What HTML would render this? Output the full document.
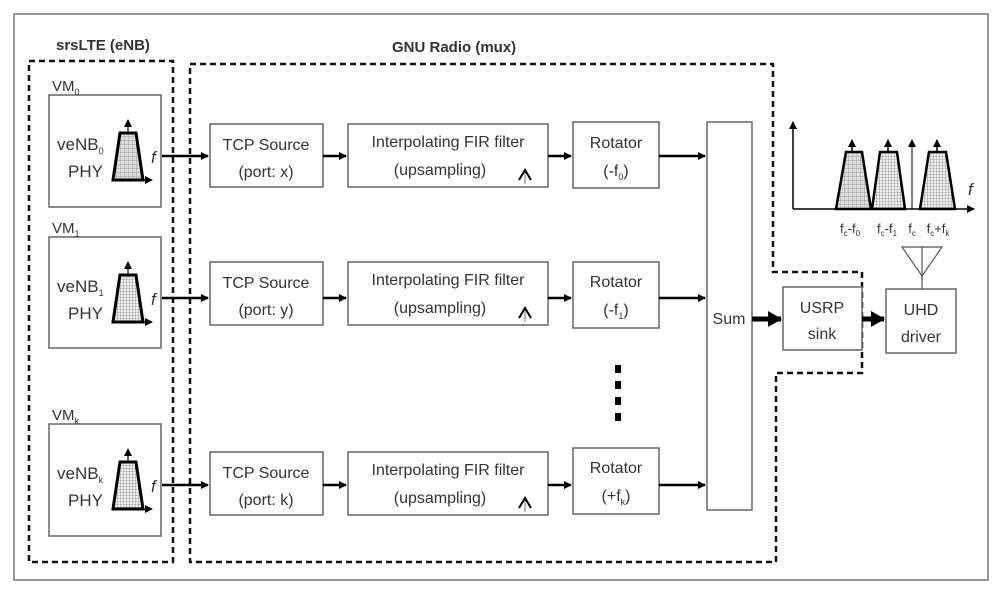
<!DOCTYPE html>
<html><head><meta charset="utf-8"><style>
html,body{margin:0;padding:0;background:#fff}
svg{display:block}
text{font-family:"Liberation Sans",sans-serif;fill:#333}
</style></head><body>
<svg width="1000" height="594" viewBox="0 0 1000 594" xmlns="http://www.w3.org/2000/svg">
<defs>
<marker id="ah" markerWidth="8" markerHeight="8" refX="7" refY="4" orient="auto" markerUnits="userSpaceOnUse"><path d="M0,0 L8,4 L0,8 z" fill="#000"/></marker>
<marker id="ahb" markerWidth="14" markerHeight="16" refX="13" refY="8" orient="auto" markerUnits="userSpaceOnUse"><path d="M0,0 L14,8 L0,16 z" fill="#000"/></marker>
<pattern id="grid" width="4" height="4" patternUnits="userSpaceOnUse"><rect width="4" height="4" fill="#ddd"/><path d="M0,0H4M0,0V4" stroke="#888" stroke-width="0.7"/></pattern>
<pattern id="grid2" width="3" height="3" patternUnits="userSpaceOnUse"><rect width="3" height="3" fill="#eee"/><path d="M0,0H3M0,0V3" stroke="#666" stroke-width="0.6"/></pattern>
</defs>
<rect x="14" y="14" width="974" height="566" fill="none" stroke="#777" stroke-width="1.5"/>
<text x="56" y="50" font-size="15" font-weight="bold" fill="#222">srsLTE (eNB)</text>
<text x="392" y="52" font-size="15" font-weight="bold" fill="#222">GNU Radio (mux)</text>
<g fill="none" stroke="#111" stroke-width="2.5" stroke-dasharray="6,4">
<rect x="29" y="61" width="144" height="501"/>
<path d="M190,64 H773 V272 H862 V373 H776 V562 H190 Z"/>
</g>
<g stroke="#666" stroke-width="1.5" fill="#fff">
<rect x="49" y="95" width="112" height="112"/>
<rect x="49" y="237" width="112" height="111"/>
<rect x="49" y="424" width="112" height="112"/>
<rect x="210" y="124" width="113" height="63"/>
<rect x="210" y="262" width="113" height="63"/>
<rect x="210" y="452" width="113" height="63"/>
<rect x="348" y="124" width="200" height="63"/>
<rect x="348" y="262" width="200" height="63"/>
<rect x="348" y="452" width="200" height="63"/>
<rect x="573" y="122" width="86" height="66"/>
<rect x="573" y="262" width="86" height="66"/>
<rect x="573" y="448" width="86" height="66"/>
<rect x="707" y="122" width="45" height="388"/>
<rect x="783" y="287" width="79" height="63"/>
<rect x="886" y="289" width="70" height="64"/>
</g>
<g font-size="15">
<text x="52" y="91">VM<tspan font-size="9" dy="4">0</tspan></text>
<text x="52" y="233">VM<tspan font-size="9" dy="4">1</tspan></text>
<text x="52" y="420">VM<tspan font-size="9" dy="4">k</tspan></text>
<text x="57" y="150" font-size="17">veNB<tspan font-size="9" dy="4">0</tspan></text>
<text x="68" y="177" font-size="17">PHY</text>
<text x="57" y="292" font-size="17">veNB<tspan font-size="9" dy="4">1</tspan></text>
<text x="68" y="319" font-size="17">PHY</text>
<text x="57" y="479" font-size="17">veNB<tspan font-size="9" dy="4">k</tspan></text>
<text x="68" y="506" font-size="17">PHY</text>
</g>
<g>
<path d="M128,158 V120" stroke="#000" stroke-width="1.2" marker-end="url(#ah)"/>
<path d="M113,180 L120,133 H136 L143,180 Z" fill="url(#grid)" stroke="#000" stroke-width="3"/>
<path d="M113,180 H152" stroke="#000" stroke-width="1.2" marker-end="url(#ah)"/>
<path d="M128,300 V262" stroke="#000" stroke-width="1.2" marker-end="url(#ah)"/>
<path d="M113,322 L120,275 H136 L143,322 Z" fill="url(#grid2)" stroke="#000" stroke-width="3"/>
<path d="M113,322 H152" stroke="#000" stroke-width="1.2" marker-end="url(#ah)"/>
<path d="M128,487 V449" stroke="#000" stroke-width="1.2" marker-end="url(#ah)"/>
<path d="M113,509 L120,462 H136 L143,509 Z" fill="url(#grid2)" stroke="#000" stroke-width="3"/>
<path d="M113,509 H152" stroke="#000" stroke-width="1.2" marker-end="url(#ah)"/>
<text x="151" y="163" font-size="17" font-style="italic">f</text>
<text x="151" y="305" font-size="17" font-style="italic">f</text>
<text x="151" y="492" font-size="17" font-style="italic">f</text>
</g>
<g stroke="#000" stroke-width="2.5" marker-end="url(#ah)">
<path d="M162,156 H208"/><path d="M162,298 H208"/><path d="M162,485 H208"/>
<path d="M323,156 H346"/><path d="M323,298 H346"/><path d="M323,485 H346"/>
<path d="M548,156 H571"/><path d="M548,298 H571"/><path d="M548,485 H571"/>
<path d="M659,156 H705"/><path d="M659,298 H705"/><path d="M659,485 H705"/>
</g>
<g stroke="#000" stroke-width="5" marker-end="url(#ahb)">
<path d="M752,319 H781"/><path d="M862,319 H884"/>
</g>
<g font-size="16" text-anchor="middle">
<text x="266" y="150">TCP Source</text><text x="266" y="177">(port: x)</text>
<text x="266" y="288">TCP Source</text><text x="266" y="315">(port: y)</text>
<text x="266" y="478">TCP Source</text><text x="266" y="505">(port: k)</text>
<text x="448" y="147">Interpolating FIR filter</text><text x="440" y="175">(upsampling)</text>
<text x="448" y="285">Interpolating FIR filter</text><text x="440" y="313">(upsampling)</text>
<text x="448" y="475">Interpolating FIR filter</text><text x="440" y="503">(upsampling)</text>
<text x="616" y="148">Rotator</text><text x="616" y="176">(-f<tspan font-size="9" dy="4">0</tspan><tspan dy="-4">)</tspan></text>
<text x="616" y="287">Rotator</text><text x="616" y="315">(-f<tspan font-size="9" dy="4">1</tspan><tspan dy="-4">)</tspan></text>
<text x="616" y="473">Rotator</text><text x="616" y="501">(+f<tspan font-size="9" dy="4">k</tspan><tspan dy="-4">)</tspan></text>
<text x="729" y="324">Sum</text>
<text x="822" y="313">USRP</text><text x="822" y="339">sink</text>
<text x="921" y="315">UHD</text><text x="921" y="342">driver</text>
</g>
<g fill="none" stroke="#000" stroke-width="2">
<path d="M519,180 L525,170 L531,180"/><path d="M519,318 L525,308 L531,318"/><path d="M519,508 L525,498 L531,508"/>
</g>
<g stroke="#555" stroke-width="0.8"><path d="M525,172 V184"/><path d="M525,310 V322"/><path d="M525,500 V512"/></g>
<g fill="#000"><rect x="615" y="365" width="6" height="8"/><rect x="615" y="381" width="6" height="8"/><rect x="615" y="397" width="6" height="8"/><rect x="615" y="413" width="6" height="8"/></g>
<!-- spectrum -->
<g stroke="#000" stroke-width="1.5">
<path d="M793,209 V122" marker-end="url(#ah)"/>
<path d="M793,209 H974" marker-end="url(#ah)"/>
<path d="M912,209 V140" stroke-width="1" marker-end="url(#ah)"/>
<path d="M852,160 V140" marker-end="url(#ah)"/>
<path d="M888,160 V140" marker-end="url(#ah)"/>
<path d="M937,160 V140" marker-end="url(#ah)"/>
</g>
<path d="M836,209 L846,152 H862 L871,209 Z" fill="url(#grid)" stroke="#000" stroke-width="2.5"/>
<path d="M872,209 L880,152 H897 L905,209 Z" fill="url(#grid2)" stroke="#000" stroke-width="2.5"/>
<path d="M920,209 L929,152 H946 L955,209 Z" fill="url(#grid2)" stroke="#000" stroke-width="2.5"/>
<text x="968" y="195" font-size="17" font-style="italic">f</text>
<g font-size="13" fill="#555" text-anchor="middle">
<text x="850" y="233">f<tspan font-size="8" dy="3">c</tspan><tspan dy="-3">-f</tspan><tspan font-size="8" dy="3">0</tspan></text>
<text x="887" y="233">f<tspan font-size="8" dy="3">c</tspan><tspan dy="-3">-f</tspan><tspan font-size="8" dy="3">1</tspan></text>
<text x="912" y="233">f<tspan font-size="8" dy="3">c</tspan></text>
<text x="938" y="233">f<tspan font-size="8" dy="3">c</tspan><tspan dy="-3">+f</tspan><tspan font-size="8" dy="3">k</tspan></text>
</g>
<g fill="none" stroke="#555" stroke-width="1.2">
<path d="M902,247 H942 L922,276 Z"/><path d="M922,247 V289"/>
</g>
</svg>
</body></html>
